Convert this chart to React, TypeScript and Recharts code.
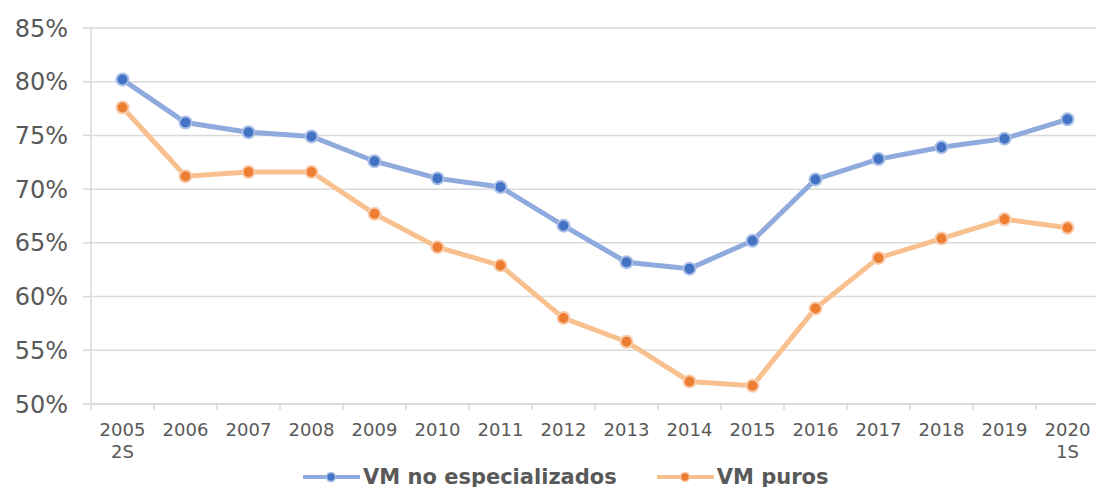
import React from 'react'
import { LineChart, Line, XAxis, YAxis, CartesianGrid } from 'recharts'

const categories = [
  '2005 2S', '2006', '2007', '2008', '2009', '2010', '2011', '2012',
  '2013', '2014', '2015', '2016', '2017', '2018', '2019', '2020 1S',
]
const noEspecializados = [
  80.2, 76.2, 75.3, 74.9, 72.6, 71.0, 70.2, 66.6,
  63.2, 62.6, 65.2, 70.9, 72.8, 73.9, 74.7, 76.5,
]
const puros = [
  77.6, 71.2, 71.6, 71.6, 67.7, 64.6, 62.9, 58.0,
  55.8, 52.1, 51.7, 58.9, 63.6, 65.4, 67.2, 66.4,
]
const yTicks = [50, 55, 60, 65, 70, 75, 80, 85]

const series = [
  { key: 'noEsp', name: 'VM no especializados', line: '#8FAADC', dot: '#4472C4', ring: '#A9BFE6' },
  { key: 'puros', name: 'VM puros', line: '#F9C08F', dot: '#ED7D31', ring: '#F8CBAD' },
]

const data = categories.map((c, i) => ({
  cat: c,
  noEsp: noEspecializados[i],
  puros: puros[i],
}))

const W = 1096
const H = 487
const margin = { top: 28, right: -3, bottom: 33, left: 0 }
const yAxisWidth = 91
const band = (W - margin.left - margin.right - yAxisWidth) / categories.length

const FONT = '"DejaVu Sans", Verdana, sans-serif'
const TEXT = '#595959'
const GRID = '#d9d9d9'

const XTick = (props: any) => {
  const { x, y, payload, index } = props
  const parts = String(payload.value).split(' ')
  const last = index === categories.length - 1
  return (
    <g>
      <line x1={x - band / 2} x2={x - band / 2} y1={y} y2={y + 6} stroke={GRID} strokeWidth={1.5} />
      {last && <line x1={x + band / 2} x2={x + band / 2} y1={y} y2={y + 6} stroke={GRID} strokeWidth={1.5} />}
      <text x={x} y={y + 32} textAnchor="middle" fill={TEXT} fontSize={18} fontFamily={FONT}>
        {parts.map((p, i) => (
          <tspan key={i} x={x} dy={i === 0 ? 0 : 22}>{p}</tspan>
        ))}
      </text>
    </g>
  )
}

const LegendIcon = ({ line, dot, ring }: { line: string; dot: string; ring: string }) => (
  <svg width={57} height={14}>
    <line x1={0} x2={57} y1={7} y2={7} stroke={line} strokeWidth={4} strokeLinecap="round" />
    <circle cx={28} cy={7} r={4.5} fill={dot} stroke={ring} strokeWidth={1.5} />
  </svg>
)

export default function App() {
  return (
    <div style={{ position: 'absolute', left: 0, top: 0, width: W, height: H, background: '#fff' }}>
      <LineChart width={W} height={H} data={data} margin={margin}>
        <CartesianGrid vertical={false} stroke={GRID} strokeWidth={1.5} />
        <XAxis
          dataKey="cat"
          scale="band"
          interval={0}
          tickLine={false}
          tickSize={0}
          tickMargin={0}
          height={50}
          axisLine={{ stroke: GRID, strokeWidth: 1.5 }}
          tick={<XTick />}
        />
        <YAxis
          width={yAxisWidth}
          domain={[50, 85]}
          ticks={yTicks}
          tickFormatter={(v: number) => `${v}%`}
          axisLine={{ stroke: GRID, strokeWidth: 1.5 }}
          tickLine={{ stroke: GRID, strokeWidth: 1.5 }}
          tickSize={8}
          tickMargin={15}
          tick={{ fill: TEXT, fontSize: 24, fontFamily: FONT }}
        />
        {series.map((s) => (
          <Line
            key={s.key}
            dataKey={s.key}
            name={s.name}
            stroke={s.line}
            strokeWidth={5}
            dot={{ r: 6, fill: s.dot, stroke: s.ring, strokeWidth: 2 }}
            activeDot={false}
            isAnimationActive={false}
          />
        ))}
      </LineChart>
      <div
        style={{
          position: 'absolute',
          left: 303,
          top: 464,
          display: 'flex',
          alignItems: 'center',
          gap: 40,
          fontFamily: FONT,
          fontWeight: 'bold',
          fontSize: 21,
          color: TEXT,
          whiteSpace: 'nowrap',
          lineHeight: '26px',
        }}
      >
        {series.map((s) => (
          <div key={s.key} style={{ display: 'flex', alignItems: 'center', gap: 3 }}>
            <LegendIcon line={s.line} dot={s.dot} ring={s.ring} />
            <span>{s.name}</span>
          </div>
        ))}
      </div>
    </div>
  )
}
